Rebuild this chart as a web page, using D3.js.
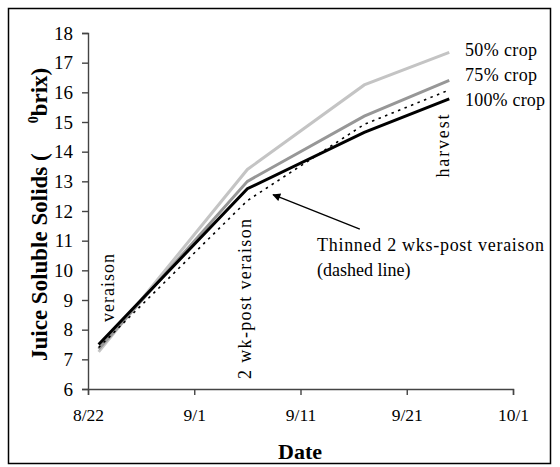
<!DOCTYPE html>
<html>
<head>
<meta charset="utf-8">
<script src="https://cdn.jsdelivr.net/npm/d3@7"></script>
<style>
  html, body { margin: 0; padding: 0; background: #fff; }
  svg { display: block; }
  text { font-family: "Liberation Serif", "Times New Roman", serif; fill: #000; }
</style>
</head>
<body>
<svg id="chart" width="560" height="467"></svg>
<script>
// ---- data ----
const dates = ["2003-08-23", "2003-09-06", "2003-09-17", "2003-09-25"];
const crop50 = [7.25, 13.4, 16.25, 17.35];
const crop75 = [7.35, 13.0, 15.2, 16.4];
const crop100 = [7.5, 12.75, 14.65, 15.78];
const thinned = [7.4, 12.35, 14.92, 16.08];
const seriesNames = ["50% crop", "75% crop", "100% crop", "Thinned 2 wks-post veraison"];
const xTickDates = ["2003-08-22", "2003-09-01", "2003-09-11", "2003-09-21", "2003-10-01"];
const yTicks = [6, 7, 8, 9, 10, 11, 12, 13, 14, 15, 16, 17, 18];

const parse = d3.utcParse("%Y-%m-%d");
const parseT = d3.utcParse("%Y-%m-%dT%H:%M");
const fmt = d3.utcFormat("%-m/%-d");

const svg = d3.select("#chart");

// border
svg.append("rect")
  .attr("x", 8.5).attr("y", 8.5)
  .attr("width", 542).attr("height", 455)
  .attr("fill", "none").attr("stroke", "#000").attr("stroke-width", 1.5);

const x = d3.scaleUtc()
  .domain([parse(xTickDates[0]), parse(xTickDates[xTickDates.length - 1])])
  .range([88, 513]);
const y = d3.scaleLinear().domain([6, 18]).range([389, 33]);

// axes
const xAxis = svg.append("g")
  .attr("transform", "translate(0,389)")
  .call(d3.axisBottom(x).tickValues(xTickDates.map(parse)).tickFormat(fmt).tickSizeOuter(0).tickSize(6).tickPadding(14));
const yAxis = svg.append("g")
  .attr("transform", "translate(88,0)")
  .call(d3.axisLeft(y).tickValues(yTicks).tickFormat(d3.format("d")).tickSizeOuter(0).tickSize(6).tickPadding(9));

[xAxis, yAxis].forEach(g => {
  g.select(".domain").attr("stroke", "#444").attr("stroke-width", 1.4);
  g.selectAll(".tick line").attr("stroke", "#444").attr("stroke-width", 1.4);
  g.selectAll(".tick text").attr("fill", "#000").style("font-family", "Liberation Serif");
});
xAxis.selectAll(".tick text").attr("font-size", 17.5);
yAxis.selectAll(".tick text").attr("font-size", 19).attr("dy", "0.33em");

// lines
const line = d3.line()
  .x((d, i) => x(parse(dates[i])))
  .y(d => y(d));

const styles = [
  { data: crop50, color: "#c4c4c4", w: 3, dash: null },
  { data: crop75, color: "#979797", w: 3, dash: null },
  { data: crop100, color: "#000", w: 3, dash: null },
  { data: thinned, color: "#000", w: 1.6, dash: "2.5,4.5" }
];
styles.forEach(s => {
  svg.append("path")
    .datum(s.data)
    .attr("d", line)
    .attr("fill", "none")
    .attr("stroke", s.color)
    .attr("stroke-width", s.w)
    .attr("stroke-linejoin", "miter")
    .attr("stroke-dasharray", s.dash);
});

// series labels
const labelY = [56, 81, 106];
seriesNames.slice(0, 3).forEach((n, i) => {
  svg.append("text")
    .attr("x", 465).attr("y", labelY[i])
    .attr("font-size", 18)
    .attr("textLength", i === 2 ? 80 : 72)
    .text(n);
});

// thinned annotation
svg.append("text").attr("x", 317).attr("y", 251).attr("font-size", 18)
  .attr("textLength", 227).attr("lengthAdjust", "spacing")
  .text(seriesNames[3]);
svg.append("text").attr("x", 317).attr("y", 276).attr("font-size", 18)
  .text("(dashed line)");

// arrow
svg.append("defs").append("marker")
  .attr("id", "ah").attr("viewBox", "0 0 10 10")
  .attr("refX", 9).attr("refY", 5)
  .attr("markerWidth", 10).attr("markerHeight", 8)
  .attr("markerUnits", "userSpaceOnUse")
  .attr("orient", "auto")
  .append("path").attr("d", "M0,0 L10,5 L0,10 Z").attr("fill", "#000");
const arrowTail = { t: "2003-09-16T14:00", v: 11.39 };
const arrowTip = { t: "2003-09-08T10:00", v: 12.55 };
svg.append("line")
  .attr("x1", x(parseT(arrowTail.t))).attr("y1", y(arrowTail.v))
  .attr("x2", x(parseT(arrowTip.t))).attr("y2", y(arrowTip.v))
  .attr("stroke", "#000").attr("stroke-width", 1.3)
  .attr("marker-end", "url(#ah)");

// rotated annotations
function vtext(txt, bx, cy, len) {
  svg.append("text")
    .attr("transform", `translate(${bx},${cy}) rotate(-90)`)
    .attr("text-anchor", "middle")
    .attr("font-size", 18)
    .attr("textLength", len).attr("lengthAdjust", "spacing")
    .text(txt);
}
vtext("veraison", 114, 288, 68);
vtext("2 wk-post veraison", 251, 299, 160);
vtext("harvest", 449, 146, 63);

// axis titles
svg.append("text")
  .attr("x", 300).attr("y", 459)
  .attr("text-anchor", "middle")
  .attr("font-size", 22).attr("font-weight", "bold")
  .text("Date");

const yt = svg.append("text")
  .attr("transform", "translate(47,361) rotate(-90)")
  .attr("text-anchor", "start")
  .attr("font-size", 23).attr("font-weight", "bold");
yt.append("tspan").text("Juice Soluble Solids (");
yt.append("tspan").attr("dx", 30).attr("dy", -9).attr("font-size", 14).text("0");
yt.append("tspan").attr("dy", 9).text("brix)");
</script>
</body>
</html>
